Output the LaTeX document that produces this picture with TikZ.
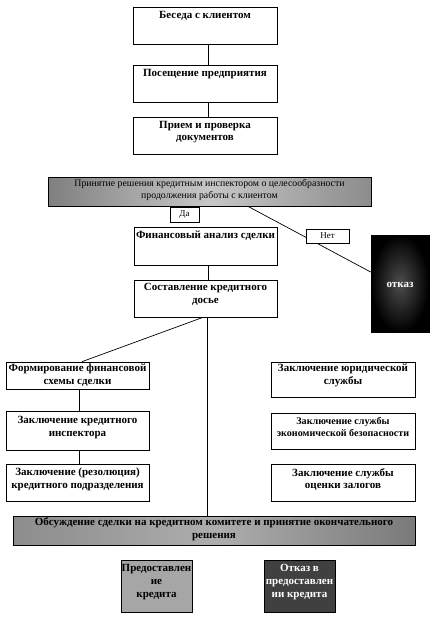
\documentclass[tikz,border=0pt]{standalone}
\usepackage{fontspec}
\setmainfont{Liberation Serif}
\usetikzlibrary{calc}
\begin{document}
\begin{tikzpicture}[x=1pt,y=-1pt,
  box/.style={draw=black, line width=0.7pt, rectangle, inner sep=0pt},
  conn/.style={draw=black, line width=0.7pt},
  txt/.style={align=center, inner sep=0pt, font=\fontsize{11}{12.8}\selectfont\bfseries},
  smalltxt/.style={align=center, inner sep=0pt, font=\fontsize{10.1}{12}\selectfont\bfseries},
  dectxt/.style={align=center, inner sep=0pt, font=\fontsize{9.8}{11.5}\selectfont},
  lbl/.style={draw=black, line width=0.6pt, fill=white, inner sep=0pt, font=\fontsize{9}{10}\selectfont},
  graybox/.style={box, left color=black!50, right color=black!45, middle color=black!22},
  disbox/.style={box, left color=black!45, right color=black!52, middle color=black!32},
  ]
\fill[white] (0,0) rectangle (440,619);
\useasboundingbox (0,0) rectangle (440,619);

% main column
\node[box, minimum width=144pt, minimum height=37pt] (b1) at (205,25.5) {};
\node[txt] (t1) at (205,16) {Беседа с клиентом};
\node[box, minimum width=144pt, minimum height=37pt] (b2) at (205,83.5) {};
\node[txt] (t2) at (205,74) {Посещение предприятия};
\node[box, minimum width=144pt, minimum height=37pt] (b3) at (205,135.5) {};
\node[txt] (t3) at (205,132) {Прием и проверка\\документов};

\node[graybox, minimum width=323pt, minimum height=29pt] (dec) at (209.5,191.5) {};
\node[dectxt] (tdec) at (209.5,190) {Принятие решения кредитным инспектором о целесообразности\\продолжения работы с клиентом};

\node[box, minimum width=143pt, minimum height=38pt] (b4) at (205.5,246) {};
\node[txt] (t4) at (205.5,236) {Финансовый анализ сделки};
\node[box, minimum width=143pt, minimum height=37pt] (b5) at (205.5,298.5) {};
\node[txt] (t5) at (205.5,294.5) {Составление кредитного\\досье};

% refusal box
\node[box, draw=black, inner color=black!70, outer color=black, minimum width=58pt, minimum height=97pt] (otk) at (400,283.5) {};
\node[txt, text=white] (totk) at (400,285) {отказ};

% left column
\node[box, minimum width=143pt, minimum height=27pt] (L1) at (77.5,375.5) {};
\node[txt] (tL1) at (77.5,375.5) {Формирование финансовой\\схемы сделки};
\node[box, minimum width=143pt, minimum height=39pt] (L2) at (77.5,430.5) {};
\node[txt] (tL2) at (77.5,427.5) {Заключение кредитного\\инспектора};
\node[box, minimum width=143pt, minimum height=37pt] (L3) at (77.5,482.5) {};
\node[txt] (tL3) at (77.5,479.5) {Заключение (резолюция)\\кредитного подразделения};

% right column
\node[box, minimum width=144pt, minimum height=35pt] (R1) at (343,379.5) {};
\node[txt] (tR1) at (343,375) {Заключение юридической\\службы};
\node[box, minimum width=144pt, minimum height=36pt] (R2) at (343,431) {};
\node[smalltxt] (tR2) at (343,427) {Заключение службы\\экономической безопасности};
\node[box, minimum width=144pt, minimum height=37pt] (R3) at (343,482.5) {};
\node[txt] (tR3) at (343,479.5) {Заключение службы\\оценки залогов};

% committee
\node[disbox, minimum width=402pt, minimum height=29pt] (dis) at (214,530.5) {};
\node[txt] (tdis) at (214,529.5) {Обсуждение сделки на кредитном комитете и принятие окончательного\\решения};

\node[box, fill=black!35, minimum width=71pt, minimum height=52pt] (P) at (156.5,586) {};
\node[txt, font=\fontsize{11}{13}\selectfont\bfseries] (tP) at (156.5,582) {Предоставлен\\ие\\кредита};
\node[box, fill=black!75, minimum width=71pt, minimum height=52pt] (O) at (299.5,586) {};
\node[txt, text=white, font=\fontsize{11}{13}\selectfont\bfseries] (tO) at (299.5,582) {Отказ в\\предоставлен\\ии кредита};

% connectors
\draw[conn] ($(b1.south)+(3,0)$) -- ($(b2.north)+(3,0)$);
\draw[conn] ($(b2.south)+(3,0)$) -- ($(b3.north)+(3,0)$);
\draw[conn] ($(b3.south)+(3,0)$) -- ($(b3.south)+(3,0)$ |- dec.north);
\draw[conn] ($(b4.north)+(2.5,0)$ |- dec.south) -- ($(b4.north)+(2.5,0)$);
\draw[conn] ($(b4.south)+(2.5,0)$) -- ($(b5.north)+(2.5,0)$);

\draw[conn] ($(dec.south)+(38.5,0)$) -- ($(otk.west)+(0,-11.5)$);
\node[lbl, minimum width=43pt, minimum height=14pt] (net) at (327.5,236) {Нет};
\node[lbl, minimum width=29pt, minimum height=15pt] (da) at (184.5,214.5) {Да};

\coordinate (tk) at ($(b5.south)+(1.5,0)$);
\draw[conn] (tk) -- (tk |- dis.north);
\draw[conn] ($(R1.west)+(0,2.5)$) -- ($(R1.west)+(0,2.5)$ -| tk);
\draw[conn] ($(R2.west)+(0,-4)$) -- ($(R2.west)+(0,-4)$ -| tk);
\draw[conn] ($(R3.west)+(0,-4.5)$) -- ($(R3.west)+(0,-4.5)$ -| tk);

\draw[conn] ($(b5.south)+(-2.5,0)$) -- ($(L1.north)+(4.5,0)$);
\draw[conn] ($(L1.south)+(1.5,0)$) -- ($(L2.north)+(1.5,0)$);
\draw[conn] ($(L2.south)+(1.5,0)$) -- ($(L3.north)+(1.5,0)$);
\draw[conn] ($(L3.south)+(1.5,0)$) -- ($(L3.south)+(1.5,0)$ |- dis.north);

\draw[conn] ($(P.north)+(2.5,0)$ |- dis.south) -- ($(P.north)+(2.5,0)$);
\draw[conn] ($(O.north)+(2.5,0)$ |- dis.south) -- ($(O.north)+(2.5,0)$);
\end{tikzpicture}
\end{document}
